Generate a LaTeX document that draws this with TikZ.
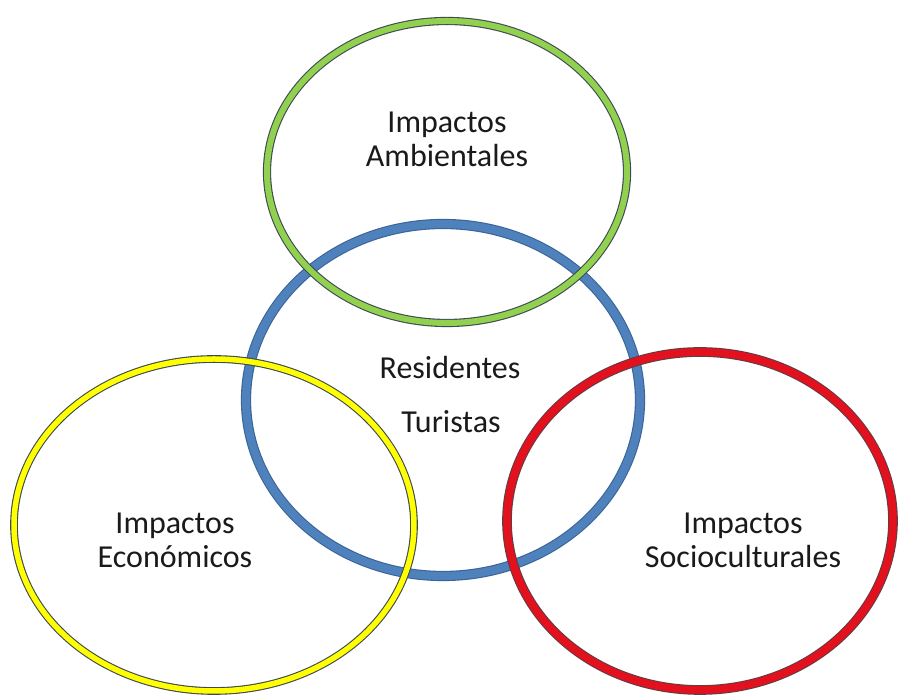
\documentclass[tikz,border=0pt]{standalone}
\usepackage{fontspec}
\setmainfont{Carlito}
\usetikzlibrary{shapes.geometric}
\definecolor{ringgreen}{HTML}{92D050}
\definecolor{ringblue}{HTML}{4F81BD}
\definecolor{ringyellow}{HTML}{FFFF00}
\definecolor{ringred}{HTML}{E3101E}
\definecolor{edgedark}{HTML}{3E4A52}
\definecolor{edgeblue}{HTML}{3A6496}
\definecolor{txt}{HTML}{1A1A1A}
\tikzset{
  ring/.style={ellipse, inner sep=0pt, line width=1.1pt, draw=edgedark, double distance=#1},
  lbl/.style={align=center, text=txt, font=\fontsize{32}{34}\selectfont, inner sep=0pt}
}
\begin{document}
\begin{tikzpicture}[x=1pt,y=1pt]
\useasboundingbox[fill=white] (0,0) rectangle (898,695);
% blue (bottom layer)
\node[ring=8pt, draw=edgeblue, double=ringblue, minimum width=394pt, minimum height=352pt] (blue) at (443,295) {};
% green
\node[ring=6pt, double=ringgreen, minimum width=360pt, minimum height=302pt] (green) at (447,523) {};
% yellow
\node[ring=5.5pt, double=ringyellow, minimum width=400pt, minimum height=332pt] (yellow) at (214,170) {};
% red
\node[ring=7.5pt, draw=edgedark!80!red, double=ringred, minimum width=386pt, minimum height=338pt] (red) at (700,174) {};
% labels
\node[lbl] (amb) at (447,556) {Impactos\\Ambientales};
\node[lbl] (res) at (450,327) {Residentes};
\node[lbl] (tur) at (451,273) {Turistas};
\node[lbl] (eco) at (175,155) {Impactos\\Económicos};
\node[lbl] (soc) at (743,155) {Impactos\\Socioculturales};
\end{tikzpicture}
\end{document}
